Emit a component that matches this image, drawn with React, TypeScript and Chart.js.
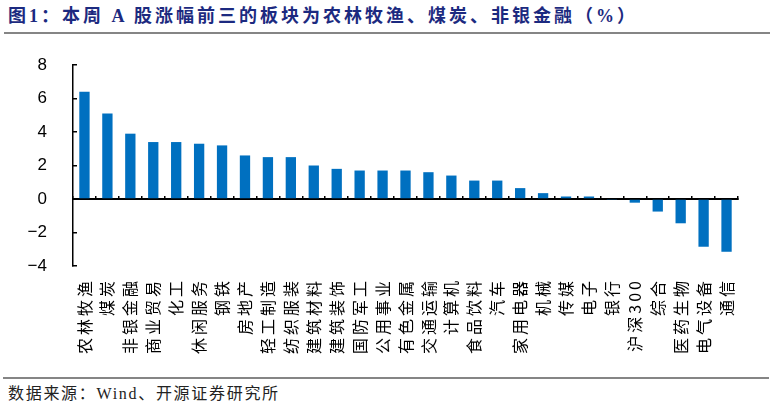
import React, { useEffect, useRef } from "react";
import { Chart, registerables } from "chart.js";

Chart.register(...registerables);

const categories = [
  "农林牧渔", "煤炭", "非银金融", "商业贸易", "化工", "休闲服务", "钢铁", "房地产",
  "轻工制造", "纺织服装", "建筑材料", "建筑装饰", "国防军工", "公用事业", "有色金属",
  "交通运输", "计算机", "食品饮料", "汽车", "家用电器", "机械", "传媒", "电子", "银行",
  "沪深300", "综合", "医药生物", "电气设备", "通信",
];

const weeklyChange = [
  6.4, 5.1, 3.9, 3.4, 3.4, 3.3, 3.2, 2.6, 2.5, 2.5, 2.0, 1.8, 1.7, 1.7, 1.7,
  1.6, 1.4, 1.1, 1.1, 0.65, 0.35, 0.15, 0.15, -0.03, -0.22, -0.75, -1.45, -2.85, -3.15,
];

const yMin = -4;
const yMax = 8;
const yStep = 2;

const titleText = "图1：本周 A 股涨幅前三的板块为农林牧渔、煤炭、非银金融（%）";
const sourceText = "数据来源：Wind、开源证券研究所";

export default function App() {
  const ref = useRef<HTMLCanvasElement | null>(null);

  useEffect(() => {
    if (!ref.current) return;
    const spacing = {
      id: "labelSpacing",
      beforeDraw(chart: any) {
        chart.ctx.letterSpacing = "3px";
      },
      beforeDatasetsDraw(chart: any) {
        chart.ctx.letterSpacing = "0px";
      },
      afterDraw(chart: any) {
        chart.ctx.letterSpacing = "0px";
      },
    };
    const chart = new Chart(ref.current, {
      type: "bar",
      data: {
        labels: categories,
        datasets: [
          {
            data: weeklyChange,
            backgroundColor: "#0070C0",
            barPercentage: 0.45,
            categoryPercentage: 1,
            xAxisID: "x",
            yAxisID: "y",
          },
        ],
      },
      options: {
        animation: false,
        responsive: false,
        maintainAspectRatio: false,
        layout: { padding: { left: 8, right: 36, top: 25, bottom: 0 } },
        plugins: {
          legend: { display: false },
          tooltip: { enabled: false },
        },
        scales: {
          x: {
            position: "bottom",
            offset: true,
            grid: { display: false, drawTicks: false },
            border: { display: false },
            ticks: {
              autoSkip: false,
              minRotation: 90,
              maxRotation: 90,
              padding: 12,
              color: "#000",
              font: { family: '"Noto Sans CJK SC"', size: 16 },
            },
            afterFit: (s: any) => {
              s.height = 109;
            },
          },
          x0: {
            type: "category",
            position: { y: 0 },
            offset: true,
            grid: {
              offset: true,
              drawOnChartArea: false,
              tickLength: -4,
              color: "#000",
              lineWidth: 1.5,
            },
            border: { color: "#000", width: 2 },
            ticks: { display: false },
          },
          y: {
            min: yMin,
            max: yMax,
            ticks: {
              stepSize: yStep,
              padding: 30,
              z: 1,
              color: "#000",
              font: { family: '"Liberation Sans", Arial', size: 17 },
              callback: (v: any) => String(v).replace("-", "\u2212"),
            },
            grid: {
              drawOnChartArea: false,
              tickLength: -4,
              color: "#000",
              lineWidth: 1.5,
            },
            border: { color: "#000", width: 1.5 },
            afterFit: (s: any) => {
              s.width = 65;
              s.paddingTop = 0;
              s.paddingBottom = 0;
            },
          },
        },
      } as any,
      plugins: [spacing],
    });
    return () => chart.destroy();
  }, []);

  return (
    <div
      style={{
        position: "absolute",
        left: 0,
        top: 0,
        width: 774,
        height: 408,
        background: "#fff",
        overflow: "hidden",
      }}
    >
      <div
        style={{
          position: "absolute",
          left: 8,
          top: 4,
          fontFamily: '"Liberation Serif", "Noto Sans CJK SC", serif',
          fontWeight: 700,
          fontSize: 18,
          lineHeight: "24px",
          letterSpacing: "3px",
          color: "#1c2a80",
          whiteSpace: "nowrap",
        }}
      >
        {titleText}
      </div>
      <div
        style={{
          position: "absolute",
          left: 4,
          top: 32,
          width: 766,
          height: 2,
          background: "#858585",
        }}
      />
      <canvas
        ref={ref}
        width={774}
        height={335}
        style={{ position: "absolute", left: 0, top: 40, width: 774, height: 335 }}
      />
      <div
        style={{
          position: "absolute",
          left: 3,
          top: 377,
          width: 766,
          height: 2,
          background: "#858585",
        }}
      />
      <div
        style={{
          position: "absolute",
          left: 8,
          top: 384,
          fontFamily: '"Liberation Serif", "Noto Sans CJK SC", serif',
          fontSize: 16,
          lineHeight: "20px",
          letterSpacing: "1.7px",
          color: "#222",
          whiteSpace: "nowrap",
        }}
      >
        {sourceText}
      </div>
    </div>
  );
}
